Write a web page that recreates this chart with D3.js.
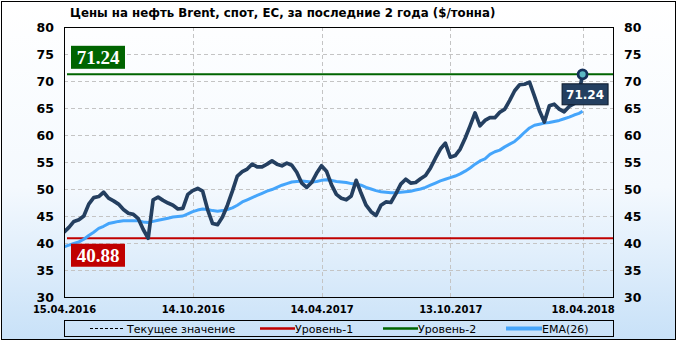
<!DOCTYPE html>
<html>
<head>
<meta charset="utf-8">
<script src="https://cdn.jsdelivr.net/npm/d3@7"></script>
<style>
  body { margin: 0; background: #fff; }
  svg { display: block; }
</style>
</head>
<body>
<svg id="chart" width="680" height="342"></svg>
<script>
// weekly Brent spot, $/tonne — first week 15.04.2016, last point 18.04.2018
const startDate = "2016-04-15"
const lastDate = "2018-04-18"
const price = [
  42.0, 42.9, 44.0, 44.3, 45.0, 47.2, 48.4, 48.6, 49.4, 48.3,
  47.8, 47.2, 46.2, 45.5, 45.3, 44.5, 42.5, 40.88, 48.0, 48.5,
  47.9, 47.4, 47.0, 46.3, 46.4, 49.0, 49.7, 50.1, 49.6, 46.2,
  43.6, 43.4, 44.8, 47.0, 49.6, 52.4, 53.2, 53.7, 54.6, 54.1,
  54.1, 54.6, 55.2, 54.6, 54.3, 54.8, 54.4, 53.1, 51.1, 50.3,
  51.2, 52.9, 54.3, 53.3, 50.8, 49.0, 48.3, 48.0, 48.7, 51.6,
  49.2, 47.0, 45.8, 45.1, 47.0, 47.6, 47.5, 49.1, 50.9, 51.8,
  51.1, 51.2, 51.9, 52.5, 53.9, 55.7, 57.4, 58.5, 55.9, 56.2,
  57.4, 59.4, 61.7, 64.1, 61.7, 62.7, 63.2, 63.2, 64.2, 64.8,
  66.4, 68.2, 69.3, 69.4, 69.8, 67.2, 64.5, 62.4, 65.4, 65.7,
  64.8, 64.3, 65.3, 65.8, 67.8, 71.24
]
const ema26 = [
  39.3, 39.6, 39.9, 40.2, 40.7, 41.4, 42.0, 42.7, 43.1, 43.6,
  43.8, 44.0, 44.1, 44.1, 44.1, 44.1, 43.9, 43.8, 44.0, 44.2,
  44.4, 44.6, 44.8, 44.9, 45.0, 45.4, 45.8, 46.1, 46.3, 46.2,
  46.0, 45.9, 46.0, 46.2, 46.5, 47.0, 47.6, 48.0, 48.4, 48.8,
  49.2, 49.6, 49.9, 50.3, 50.7, 51.0, 51.3, 51.4, 51.5, 51.4,
  51.3, 51.4, 51.6, 51.7, 51.6, 51.4, 51.3, 51.2, 51.0, 50.9,
  50.7, 50.3, 50.0, 49.7, 49.5, 49.4, 49.3, 49.3, 49.4, 49.5,
  49.6, 49.8, 50.0, 50.3, 50.7, 51.1, 51.5, 51.8, 52.1, 52.4,
  52.8, 53.3, 53.9, 54.6, 55.2, 55.6, 56.4, 56.9, 57.2, 57.8,
  58.3, 58.8, 59.6, 60.5, 61.3, 61.8, 62.0, 62.2, 62.3, 62.5,
  62.7, 63.0, 63.3, 63.7, 64.0, 64.4
]
const level1 = 40.88
const level2 = 71.24
const xTicks = ["15.04.2016", "14.10.2016", "14.04.2017", "13.10.2017", "18.04.2018"]
const yTicks = [30, 35, 40, 45, 50, 55, 60, 65, 70, 75, 80]
const legendItems = ["Текущее значение", "Уровень-1", "Уровень-2", "EMA(26)"]

const parseIso = d3.timeParse("%Y-%m-%d")
const parseRu = d3.timeParse("%d.%m.%Y")
const dates = price.map((d, i) =>
  i === price.length - 1 ? parseIso(lastDate) : d3.timeDay.offset(parseIso(startDate), 7 * i))
const series = price.map((v, i) => ({ date: dates[i], price: v, ema: ema26[i] }))

const svg = d3.select("#chart")
const m = { left: 64, right: 613, top: 27, bottom: 297 }

const x = d3.scaleTime()
  .domain([parseIso(startDate), parseIso("2018-05-31")])
  .range([m.left, m.right])
const y = d3.scaleLinear().domain([30, 80]).range([m.bottom, m.top])

const NAVY = "#243f60", EMA = "#45a5fb", RED = "#c00000", GREEN = "#006400"
const FONT = "Verdana, 'DejaVu Sans', sans-serif"

// background
const grad = svg.append("defs").append("linearGradient")
  .attr("id", "bg").attr("x1", 0).attr("x2", 0).attr("y1", 0).attr("y2", 1)
grad.append("stop").attr("offset", "0%").attr("stop-color", "#ffffff")
grad.append("stop").attr("offset", "55%").attr("stop-color", "#f4f9fe")
grad.append("stop").attr("offset", "100%").attr("stop-color", "#c8e1f8")
svg.append("rect").attr("x", 1.5).attr("y", 1.5).attr("width", 674).attr("height", 338)
  .attr("fill", "url(#bg)").attr("stroke", "#000")

svg.append("text").attr("x", 70).attr("y", 17)
  .attr("font-family", FONT).attr("font-weight", "bold").attr("font-size", 11.8)
  .text("Цены на нефть Brent, спот, ЕС, за последние 2 года ($/тонна)")

// grid
const grid = svg.append("g").attr("stroke", "#c4c4c4").attr("stroke-dasharray", "4,3")
grid.selectAll(".h").data(yTicks.slice(1, -1)).join("line")
  .attr("x1", m.left).attr("x2", m.right)
  .attr("y1", d => y(d) + 0.5).attr("y2", d => y(d) + 0.5)
grid.selectAll(".v").data(xTicks.slice(1)).join("line")
  .attr("x1", d => Math.round(x(parseRu(d))) + 0.5).attr("x2", d => Math.round(x(parseRu(d))) + 0.5)
  .attr("y1", m.top).attr("y2", m.bottom)

// axes labels
const yLeft = d3.axisLeft(y).tickValues(yTicks).tickSize(0).tickPadding(10)
const yRight = d3.axisRight(y).tickValues(yTicks).tickSize(0).tickPadding(11)
const styleAxis = g => {
  g.select(".domain").remove()
  g.selectAll("text").attr("font-family", FONT).attr("font-weight", "bold")
    .attr("font-size", 12.5).attr("fill", "#000")
}
svg.append("g").attr("transform", `translate(${m.left},0)`).call(yLeft).call(styleAxis)
svg.append("g").attr("transform", `translate(${m.right},0)`).call(yRight).call(styleAxis)

const xAxis = d3.axisBottom(x).tickValues(xTicks.map(parseRu))
  .tickFormat(d3.timeFormat("%d.%m.%Y")).tickSize(0).tickPadding(9)
svg.append("g").attr("transform", `translate(0,${m.bottom})`).call(xAxis)
  .call(g => {
    g.select(".domain").remove()
    g.selectAll("text").attr("font-family", FONT).attr("font-weight", "bold")
      .attr("font-size", 10).attr("fill", "#000")
  })

// clip for plot
svg.append("clipPath").attr("id", "plot").append("rect")
  .attr("x", m.left).attr("y", m.top).attr("width", m.right - m.left).attr("height", m.bottom - m.top)
const plot = svg.append("g").attr("clip-path", "url(#plot)")

// levels
plot.append("line").attr("x1", m.left + 3).attr("x2", m.right)
  .attr("y1", y(level1)).attr("y2", y(level1)).attr("stroke", RED).attr("stroke-width", 2)
plot.append("line").attr("x1", m.left + 3).attr("x2", m.right)
  .attr("y1", y(level2)).attr("y2", y(level2)).attr("stroke", GREEN).attr("stroke-width", 2)

// EMA and price
plot.append("path").datum(series)
  .attr("fill", "none").attr("stroke", EMA).attr("stroke-width", 3)
  .attr("stroke-linejoin", "round")
  .attr("d", d3.line().x(d => x(d.date)).y(d => y(d.ema)))
plot.append("path").datum(series)
  .attr("fill", "none").attr("stroke", NAVY).attr("stroke-width", 3.7)
  .attr("stroke-linejoin", "round")
  .attr("d", d3.line().x(d => x(d.date)).y(d => y(d.price)))

// plot frame
svg.append("rect").attr("x", m.left + 0.5).attr("y", m.top + 0.5)
  .attr("width", m.right - m.left).attr("height", m.bottom - m.top)
  .attr("fill", "none").attr("stroke", "#000")

// level labels
const levelLabel = (val, col, top) => {
  const g = svg.append("g")
  const by = top ? y(val) - 28.5 : y(val) + 5.5
  g.append("rect").attr("x", m.left + 7).attr("y", by).attr("width", 54).attr("height", 23)
    .attr("fill", col)
  g.append("text").attr("x", m.left + 34).attr("y", by + 18)
    .attr("text-anchor", "middle").attr("fill", "#fff")
    .attr("font-family", "'Liberation Serif', 'Times New Roman', serif")
    .attr("font-weight", "bold").attr("font-size", 19)
    .text(val.toFixed(2))
}
levelLabel(level2, GREEN, true)
levelLabel(level1, RED, false)

// current value marker
const last = series[series.length - 1]
const lx = x(last.date), ly = y(last.price)
svg.append("rect").attr("x", lx - 20.5).attr("y", ly + 9.5).attr("width", 46).attr("height", 21)
  .attr("fill", NAVY).attr("stroke", "#0d1a2b")
svg.append("text").attr("x", lx + 2.5).attr("y", ly + 24.5).attr("text-anchor", "middle")
  .attr("fill", "#fff").attr("font-family", FONT).attr("font-weight", "bold").attr("font-size", 12)
  .text(last.price.toFixed(2))
svg.append("circle").attr("cx", lx).attr("cy", ly).attr("r", 4.5)
  .attr("fill", "#5bb8c4").attr("stroke", "#14305a").attr("stroke-width", 2.8)

// legend
const lg = svg.append("g")
lg.append("rect").attr("x", m.left + 0.5).attr("y", 320.5).attr("width", m.right - m.left).attr("height", 16)
  .attr("fill", "none").attr("stroke", "#000")
const legendStyle = [
  { x0: 90, x1: 123, tx: 127, stroke: "#000", w: 1, dash: "3,2" },
  { x0: 260, x1: 295, tx: 295, stroke: RED, w: 2.5, dash: null },
  { x0: 383, x1: 418, tx: 418, stroke: GREEN, w: 2.5, dash: null },
  { x0: 506, x1: 542, tx: 542, stroke: EMA, w: 4, dash: null }
]
legendItems.forEach((name, i) => {
  const s = legendStyle[i]
  lg.append("line").attr("x1", s.x0).attr("x2", s.x1).attr("y1", 328.5).attr("y2", 328.5)
    .attr("stroke", s.stroke).attr("stroke-width", s.w).attr("stroke-dasharray", s.dash)
  lg.append("text").attr("x", s.tx).attr("y", 332.5)
    .attr("font-family", FONT).attr("font-size", 11).attr("fill", "#000")
    .text(name)
})
</script>
</body>
</html>
